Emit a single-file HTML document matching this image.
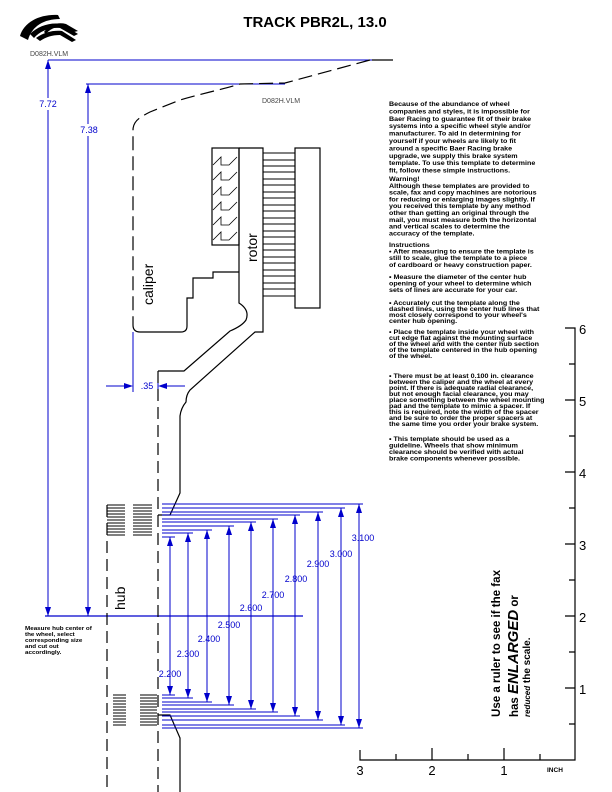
<!DOCTYPE html>
<html><head><meta charset="utf-8"><style>
html,body{margin:0;padding:0;background:#fff;}
svg{display:block;}
.t{font-family:"Liberation Sans",sans-serif;font-weight:bold;font-size:6.1px;fill:#000;}
.b{font-family:"Liberation Sans",sans-serif;font-size:9px;fill:#0000cc;}
</style></head><body>
<svg width="612" height="792" viewBox="0 0 612 792" xmlns="http://www.w3.org/2000/svg">
<!-- logo -->
<g fill="#000">
<path d="M20,36 C24,22 40,14 58,15 L60,19 C44,19 32,26 28,40 Z"/>
<path d="M30,34 C38,26 50,22 62,24 L78,34 L74,36 L60,28 C50,27 40,31 34,38 Z"/>
<path d="M36,38 C44,32 54,30 62,31 L76,40 L72,42 L60,35 C52,35 46,37 40,41 Z"/>
<path d="M44,32 C50,24 58,22 66,24 L78,31 L74,32 L64,27 C56,26 50,29 46,34 Z"/>
</g>
<text x="30" y="56" font-family="Liberation Sans,sans-serif" font-size="7" fill="#444">D082H.VLM</text>
<text x="262" y="103" font-family="Liberation Sans,sans-serif" font-size="7" fill="#444">D082H.VLM</text>
<text x="315" y="27" text-anchor="middle" font-family="Liberation Sans,sans-serif" font-weight="bold" font-size="15">TRACK PBR2L, 13.0</text>

<!-- blue top dims -->
<g stroke="#0000cc" stroke-width="1" fill="none">
<line x1="48" y1="60" x2="372" y2="60"/>
<line x1="86" y1="84" x2="285" y2="84"/>
<line x1="48" y1="60" x2="48" y2="98"/><line x1="48" y1="110" x2="48" y2="616"/>
<line x1="88" y1="84" x2="88" y2="124"/><line x1="88" y1="136" x2="88" y2="616"/>
<line x1="45" y1="616" x2="303" y2="616" stroke-width="1.3"/>
<line x1="133" y1="332" x2="133" y2="392"/>
<line x1="106" y1="386" x2="130" y2="386"/>
<line x1="161" y1="386" x2="185" y2="386"/>
<line x1="158" y1="372" x2="158" y2="400"/>
</g>
<g fill="#0000cc">
<path d="M48,60 l-3,9 h6z"/><path d="M88,84 l-3,9 h6z"/>
<path d="M48,616 l-3,-9 h6z"/><path d="M88,616 l-3,-9 h6z"/>
<path d="M133,386 l-9,-3 v6z"/><path d="M158,386 l9,-3 v6z"/>
</g>
<text class="b" x="48" y="107" text-anchor="middle">7.72</text>
<text class="b" x="89" y="133" text-anchor="middle">7.38</text>
<text class="b" x="147" y="389" text-anchor="middle">.35</text>

<!-- black drawing -->
<g stroke="#000" stroke-width="1.2" fill="none">
<line x1="372" y1="60" x2="393" y2="60"/>
<path d="M370,60 L285,83 L240,84 C220,90 200,94 180,100 L150,112 C138,118 133,122 133,130 L133,325" stroke-dasharray="14,6"/>
<path d="M133,325 Q133,332 140,332 L181,332 Q187,332 187,326 L187,298 L193,298 L193,278 L213,278 L213,272 L239,272"/>
<rect x="212" y="148" width="27" height="97"/>
<path d="M213,165 l8,-8 v8 h8 l8,-8 M213,180 l8,-8 v8 h8 l8,-8 M213,195 l8,-8 v8 h8 l8,-8 M213,210 l8,-8 v8 h8 l8,-8 M213,225 l8,-8 v8 h8 l8,-8 M213,240 l8,-8 v8 h8 l8,-8" stroke-width="0.8"/>
<path d="M239,148 L263,148 L263,332 L255,332 L190,390 Q186,395 186,402 Q181,408 180,416 L180,493 L170,515 L158,515"/>
<path d="M239,148 L239,303 Q250,310 246,320 Q242,326 230,331 L184,371 L158,371"/>
<rect x="295" y="148" width="25" height="160"/>
<path d="M263,153 H295 M263,160 H295 M263,166 H295 M263,172 H295 M263,179 H295 M263,185 H295 M263,192 H295 M263,198 H295 M263,205 H295 M263,211 H295 M263,218 H295 M263,224 H295 M263,231 H295 M263,237 H295 M263,244 H295 M263,250 H295 M263,257 H295 M263,263 H295 M263,270 H295 M263,276 H295 M263,283 H295 M263,289 H295 M263,296 H295" stroke-width="0.9"/>
<line x1="158" y1="371" x2="158" y2="792" stroke-dasharray="12,6"/>
<path d="M158,715 L170,715 L180,738 L180,792"/>
<line x1="107" y1="505" x2="107" y2="792" stroke-dasharray="12,6"/>
</g>
<!-- hatch hub -->
<g stroke="#000" stroke-width="0.9">
<path d="M107,505h18M107,508h18M107,511h18M107,514h18M107,517h18M107,520h18M107,523h18M107,526h18M107,529h18M107,532h18M107,535h18
M133,505h19M133,508h19M133,511h19M133,514h19M133,517h19M133,520h19M133,523h19M133,526h19M133,529h19M133,532h19M133,535h19
M113,695h13M113,698h13M113,701h13M113,704h13M113,707h13M113,710h13M113,713h13M113,716h13M113,719h13M113,722h13M113,725h13
M140,695h17M140,698h17M140,701h17M140,704h17M140,707h17M140,710h17M140,713h17M140,716h17M140,719h17M140,722h17M140,725h17"/>
</g>
<text transform="translate(153,305) rotate(-90)" font-family="Liberation Sans,sans-serif" font-size="14">caliper</text>
<text transform="translate(257,262) rotate(-90)" font-family="Liberation Sans,sans-serif" font-size="14">rotor</text>
<text transform="translate(125,610) rotate(-90)" font-family="Liberation Sans,sans-serif" font-size="14">hub</text>

<!-- hub dims -->
<g stroke="#0000cc" stroke-width="1" fill="none">
<path d="M162,504H363M162,508H345M162,512H323M162,515H300M162,519H278M162,522H256M162,526H234M162,530H212M162,533H193M162,537H175
M162,728H363M162,725H345M162,720H323M162,716H300M162,712H278M162,709H256M162,705H234M162,702H212M162,698H193M162,695H175"/>
<path d="M359,504V728M341,508V725M318,512V720M295,515V716M273,519V712M251,522V709M229,526V705M207,530V702M188,533V698M170,537V695"/>
</g>
<g fill="#0000cc">
<path d="M359,504l-3,9h6zM359,728l-3,-9h6zM341,508l-3,9h6zM341,725l-3,-9h6zM318,512l-3,9h6zM318,720l-3,-9h6zM295,515l-3,9h6zM295,716l-3,-9h6zM273,519l-3,9h6zM273,712l-3,-9h6zM251,522l-3,9h6zM251,709l-3,-9h6zM229,526l-3,9h6zM229,705l-3,-9h6zM207,530l-3,9h6zM207,702l-3,-9h6zM188,533l-3,9h6zM188,698l-3,-9h6zM170,537l-3,9h6zM170,695l-3,-9h6z"/>
</g>
<g text-anchor="middle">
<text x="363" y="541" class="b">3.100</text>
<text x="341" y="557" class="b">3.000</text>
<text x="318" y="567" class="b">2.900</text>
<text x="296" y="582" class="b">2.800</text>
<text x="273" y="598" class="b">2.700</text>
<text x="251" y="611" class="b">2.600</text>
<text x="229" y="628" class="b">2.500</text>
<text x="209" y="642" class="b">2.400</text>
<text x="188" y="657" class="b">2.300</text>
<text x="170" y="677" class="b">2.200</text>
</g>

<g transform="translate(25,0) scale(1.12,1) translate(-25,0)">
<text x="25" y="630" class="t" style="font-size:5.6px">Measure hub center of</text>
<text x="25" y="636" class="t" style="font-size:5.6px">the wheel, select</text>
<text x="25" y="642" class="t" style="font-size:5.6px">corresponding size</text>
<text x="25" y="648" class="t" style="font-size:5.6px">and cut out</text>
<text x="25" y="654" class="t" style="font-size:5.6px">accordingly.</text>
</g>

<!-- text block -->
<g transform="translate(389,0) scale(1.17,1) translate(-389,0)">
<text class="t" x="389" y="106">Because of the abundance of wheel</text>
<text class="t" x="389" y="113.4">companies and styles, it is impossible for</text>
<text class="t" x="389" y="120.8">Baer Racing to guarantee fit of their brake</text>
<text class="t" x="389" y="128.2">systems into a specific wheel style and/or</text>
<text class="t" x="389" y="135.6">manufacturer. To aid in determining for</text>
<text class="t" x="389" y="143">yourself if your wheels are likely to fit</text>
<text class="t" x="389" y="150.4">around a specific Baer Racing brake</text>
<text class="t" x="389" y="157.8">upgrade, we supply this brake system</text>
<text class="t" x="389" y="165.2">template. To use this template to determine</text>
<text class="t" x="389" y="172.6">fit, follow these simple instructions.</text>
<text class="t" x="389" y="181">Warning!</text>
<text class="t" x="389" y="187.8">Although these templates are provided to</text>
<text class="t" x="389" y="194.6">scale, fax and copy machines are notorious</text>
<text class="t" x="389" y="201.4">for reducing or enlarging images slightly. If</text>
<text class="t" x="389" y="208.2">you received this template by any method</text>
<text class="t" x="389" y="215">other than getting an original through the</text>
<text class="t" x="389" y="221.8">mail, you must measure both the horizontal</text>
<text class="t" x="389" y="228.6">and vertical scales to determine the</text>
<text class="t" x="389" y="235.4">accuracy of the template.</text>
<text class="t" x="389" y="247">Instructions</text>
<text class="t" x="389" y="253.6">• After measuring to ensure the template is</text>
<text class="t" x="389" y="260.2">still to scale, glue the template to a piece</text>
<text class="t" x="389" y="266.8">of cardboard or heavy construction paper.</text>
<text class="t" x="389" y="279">• Measure the diameter of the center hub</text>
<text class="t" x="389" y="285.6">opening of your wheel to determine which</text>
<text class="t" x="389" y="292.2">sets of lines are accurate for your car.</text>
<text class="t" x="389" y="305">• Accurately cut the template along the</text>
<text class="t" x="389" y="311">dashed lines, using the center hub lines that</text>
<text class="t" x="389" y="317">most closely correspond to your wheel's</text>
<text class="t" x="389" y="323">center hub opening.</text>
<text class="t" x="389" y="334">• Place the template inside your wheel with</text>
<text class="t" x="389" y="340">cut edge flat against the mounting surface</text>
<text class="t" x="389" y="346">of the wheel and with the center hub section</text>
<text class="t" x="389" y="352">of the template centered in the hub opening</text>
<text class="t" x="389" y="358">of the wheel.</text>
<text class="t" x="389" y="378">• There must be at least 0.100 in. clearance</text>
<text class="t" x="389" y="384">between the caliper and the wheel at every</text>
<text class="t" x="389" y="390">point. If there is adequate radial clearance,</text>
<text class="t" x="389" y="396">but not enough facial clearance, you may</text>
<text class="t" x="389" y="402">place something between the wheel mounting</text>
<text class="t" x="389" y="408">pad and the template to mimic a spacer. If</text>
<text class="t" x="389" y="414">this is required, note the width of the spacer</text>
<text class="t" x="389" y="420">and be sure to order the proper spacers at</text>
<text class="t" x="389" y="426">the same time you order your brake system.</text>
<text class="t" x="389" y="441">• This template should be used as a</text>
<text class="t" x="389" y="447.5">guideline. Wheels that show minimum</text>
<text class="t" x="389" y="454">clearance should be verified with actual</text>
<text class="t" x="389" y="460.5">brake components whenever possible.</text>
</g>

<!-- ruler -->
<g stroke="#000" stroke-width="1.2" fill="none">
<path d="M565,328H575V760H360V750"/>
<path d="M565,400H575M565,472H575M565,544H575M565,616H575M565,688H575"/>
<path d="M569,364H575M569,436H575M569,508H575M569,580H575M569,652H575M569,724H575"/>
<path d="M432,760V748M504,760V748M396,760V754M468,760V754M540,760V754"/>
</g>
<g font-family="Liberation Sans,sans-serif" font-size="13">
<text x="579" y="334">6</text><text x="579" y="406">5</text><text x="579" y="478">4</text>
<text x="579" y="550">3</text><text x="579" y="622">2</text><text x="579" y="694">1</text>
<text x="360" y="775" text-anchor="middle">3</text><text x="432" y="775" text-anchor="middle">2</text><text x="504" y="775" text-anchor="middle">1</text>
</g>
<text x="547" y="772" font-family="Liberation Sans,sans-serif" font-weight="bold" font-size="6.5">INCH</text>

<g transform="translate(500,717) rotate(-90)" font-family="Liberation Sans,sans-serif" font-weight="bold">
<text x="0" y="0" font-size="11.5" textLength="147" lengthAdjust="spacingAndGlyphs">Use a ruler to see if the fax</text>
<text x="0" y="18" font-size="11.5">has <tspan font-style="italic" font-size="15">ENLARGED</tspan> or</text>
<text x="0" y="30" font-size="10"><tspan font-style="italic" font-size="8">reduced</tspan>  the scale.</text>
</g>
</svg>
</body></html>
